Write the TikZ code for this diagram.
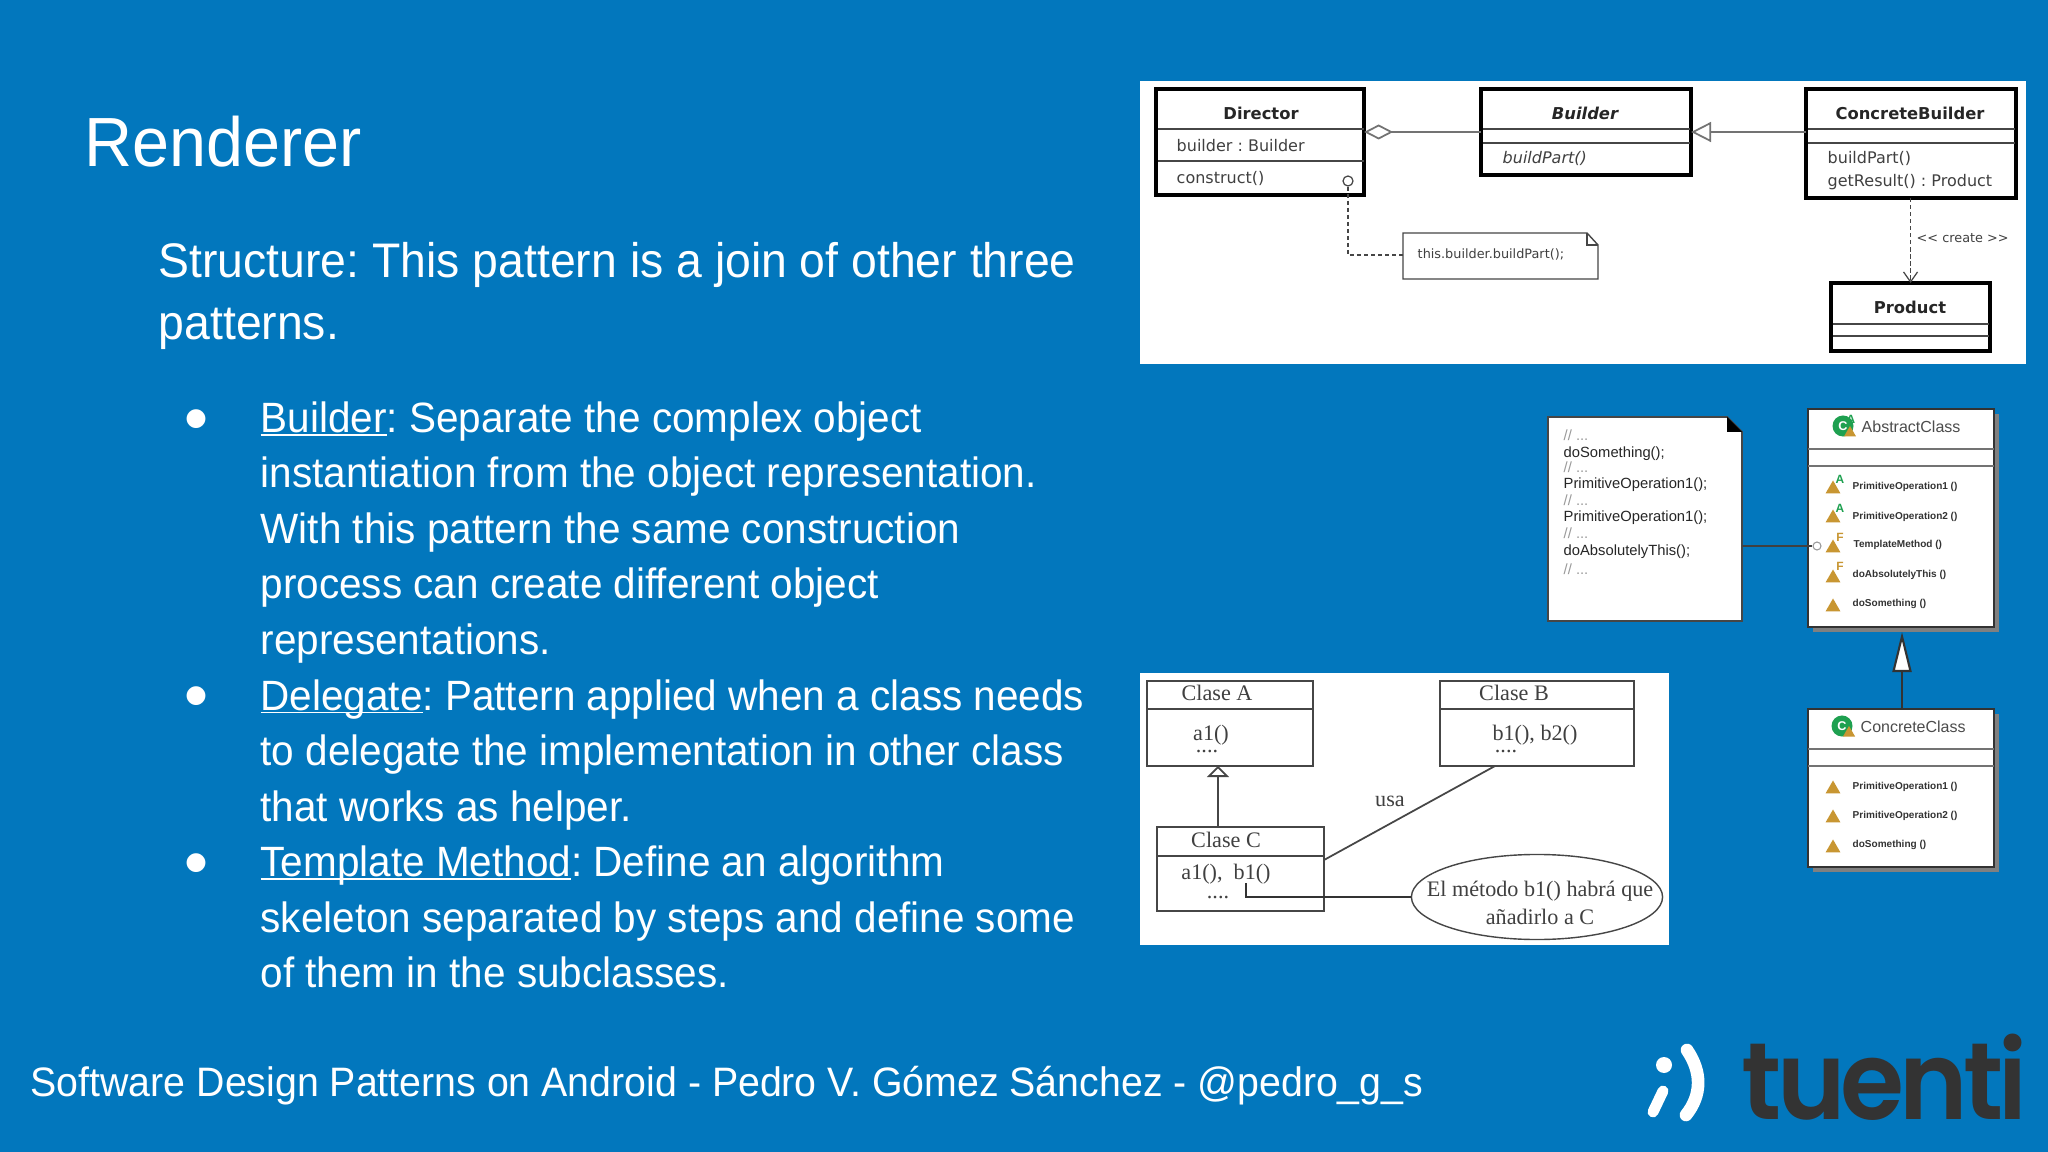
\documentclass[tikz,border=0pt]{standalone}
\usepackage{fontspec}
\usepackage{tikz}
\usetikzlibrary{arrows.meta,shapes.geometric}
\setmainfont{Liberation Sans}
\newfontfamily\slidefont[FakeStretch=0.955]{Liberation Sans}
\newfontfamily\umlfont{DejaVu Sans}
\newfontfamily\paperfont{Liberation Serif}
\newfontfamily\bulletfont{DejaVu Sans}
\newfontfamily\logofont[LetterSpace=-4.5,FakeStretch=0.95,BoldFont={* SemiBold}]{Poppins}
\definecolor{slideblue}{RGB}{2,119,189}
\definecolor{logodark}{RGB}{51,51,51}
\definecolor{methodgold}{RGB}{200,150,50}
\definecolor{iconfresh}{RGB}{30,160,80}
\definecolor{lineink}{RGB}{70,70,70}
\newcommand{\slideul}[1]{\setbox0\hbox{#1}\rlap{\rule[-.95pt]{\wd0}{.4pt}}\box0}
\tikzset{
  textline/.style={anchor=base west,inner sep=0,text=white},
  titleline/.style={textline,font=\slidefont\fontsize{19.8}{24}\selectfont},
  headline/.style={textline,font=\slidefont\fontsize{13.8}{16}\selectfont},
  bodyline/.style={textline,font=\slidefont\fontsize{12.05}{14}\selectfont},
  footline/.style={textline,font=\slidefont\fontsize{11.7}{14}\selectfont},
  dotmark/.style={inner sep=0,text=white,font=\bulletfont\fontsize{7}{8}\selectfont},
  umlbox/.style={draw=black,line width=1pt,anchor=north west,inner sep=0,outer sep=0,fill=white},
  umlname/.style={inner sep=0,font=\umlfont\bfseries\fontsize{4.65}{5}\selectfont,text=black!85},
  umltext/.style={anchor=west,inner sep=0,font=\umlfont\fontsize{4.55}{5}\selectfont,text=black!75},
  umlrule/.style={draw=lineink,line width=.45pt},
  umllink/.style={draw=black!55,line width=.8pt},
  fineline/.style={draw=lineink,line width=.35pt,dash pattern=on 1.2pt off .8pt},
  eclipsebox/.style={draw=black!80,line width=.5pt,anchor=north west,inner sep=0,outer sep=0,fill=white},
  eclipsetext/.style={anchor=west,inner sep=0,font=\fontsize{2.85}{4}\selectfont\bfseries,text=black!80},
  eclipsename/.style={anchor=west,inner sep=0,font=\fontsize{4.55}{5}\selectfont,text=black!70},
  codeline/.style={anchor=base west,inner sep=0,font=\fontsize{4.2}{5}\selectfont,text=black!85},
  commentline/.style={codeline,text=black!40},
  goldmark/.style={regular polygon,regular polygon sides=3,fill=methodgold,inner sep=0,minimum size=.17cm},
  freshicon/.style={circle,fill=iconfresh,inner sep=0,minimum size=.21cm,text=white,font=\bfseries\fontsize{3.6}{4}\selectfont},
  flagmark/.style={inner sep=0,font=\bfseries\fontsize{3.4}{4}\selectfont},
  paperbox/.style={draw=lineink,line width=.5pt,anchor=north west,inner sep=0,outer sep=0},
  papertext/.style={inner sep=0,font=\paperfont\fontsize{6.3}{7}\selectfont,text=black!75},
}
\begin{document}
\frenchspacing
\begin{tikzpicture}[x=.01cm,y=-.01cm]
\useasboundingbox (0,0) rectangle (2048,1152);
\fill[slideblue] (0,0) rectangle (2048,1152);
% slide text
\node[titleline] (title) at (84,167) {Renderer};
\node[headline] (head1) at (158,278) {Structure: This pattern is a join of other three};
\node[headline] (head2) at (158,340) {patterns.};
\node[dotmark] (dotA) at (196,419) {●};
\node[bodyline] (bodyA) at (260,432.5) {\slideul{Builder}: Separate the complex object};
\node[bodyline] (bodyB) at (260,488) {instantiation from the object representation.};
\node[bodyline] (bodyC) at (260,543.5) {With this pattern the same construction};
\node[bodyline] (bodyD) at (260,599) {process can create different object};
\node[bodyline] (bodyE) at (260,654.5) {representations.};
\node[dotmark] (dotB) at (196,696) {●};
\node[bodyline] (bodyF) at (260,710) {\slideul{Delegate}: Pattern applied when a class needs};
\node[bodyline] (bodyG) at (260,765.5) {to delegate the implementation in other class};
\node[bodyline] (bodyH) at (260,821) {that works as helper.};
\node[dotmark] (dotC) at (196,863) {●};
\node[bodyline] (bodyI) at (260,876.5) {\slideul{Template Method}: Define an algorithm};
\node[bodyline] (bodyJ) at (260,932) {skeleton separated by steps and define some};
\node[bodyline] (bodyK) at (260,987.5) {of them in the subclasses.};
\node[footline] (foot) at (30,1096) {Software Design Patterns on Android - Pedro V. Gómez Sánchez - @pedro\_g\_s};
% builder panel
\fill[white] (1140,81) rectangle (2026,364);
\node[umlbox,minimum width=2.08cm,minimum height=1.06cm] (director) at (1156,89) {};
\node[umlbox,minimum width=2.1cm,minimum height=.86cm] (builder) at (1481,89) {};
\node[umlbox,minimum width=2.1cm,minimum height=1.09cm] (concrete) at (1806,89) {};
\node[umlbox,minimum width=1.59cm,minimum height=.68cm] (product) at (1831,283) {};
\draw[umlrule] (1158,129)--(1364,129);
\draw[umlrule] (1158,161)--(1364,161);
\draw[umlrule] (1483,129)--(1690,129);
\draw[umlrule] (1483,143)--(1690,143);
\draw[umlrule] (1808,129)--(2015,129);
\draw[umlrule] (1808,143)--(2015,143);
\draw[umlrule] (1833,324)--(1989,324);
\draw[umlrule] (1833,336)--(1989,336);
\node[umlname] (directorname) at (1261,113) {Director};
\node[umlname] (buildername) at (1585,113) {\itshape Builder};
\node[umlname] (concretename) at (1910,113) {ConcreteBuilder};
\node[umlname] (productname) at (1910,307) {Product};
\node[umltext] (directorfield) at (1176,146) {builder : Builder};
\node[umltext] (directorop) at (1176,178) {construct()};
\node[umltext] (builderop) at (1502,158) {\itshape buildPart()};
\node[umltext] (concreteopA) at (1827,158) {buildPart()};
\node[umltext] (concreteopB) at (1827,182) {getResult() : Product};
\coordinate (linkrow) at (1500,132);
\draw[umllink,{Diamond[open,length=.29cm,width=.15cm,line width=.5pt]}-] (director.east |- linkrow)--(builder.west |- linkrow);
\draw[umllink,{Triangle[open,length=.2cm,width=.2cm,line width=.5pt]}-] (builder.east |- linkrow)--(concrete.west |- linkrow);
\draw[fineline,-{Straight Barb[length=.1cm,width=.14cm,line width=.35pt]}] (concrete.south -| product.north)--(product.north);
\node[umltext,font=\umlfont\fontsize{3.65}{4}\selectfont] (createlabel) at (1916,238) {{<}{<} create {>}{>}};
\draw[lineink,line width=.4pt,fill=white] (1403,233)--(1587,233)--(1598,245)--(1598,279)--(1403,279)--cycle;
\draw[lineink,line width=.4pt] (1587,233)--(1587,245)--(1598,245);
\coordinate (buildnote) at (1403,255);
\node[umltext,font=\umlfont\fontsize{3.65}{4}\selectfont] (buildnotetext) at (1417,254) {this.builder.buildPart();};
\node[circle,draw=lineink,line width=.35pt,fill=white,inner sep=0,minimum size=.1cm] (opdot) at (1348,181) {};
\draw[fineline] (opdot.south) |- (buildnote);
% template method panel
\draw[lineink,line width=.5pt,fill=white] (1548,417)--(1727,417)--(1742,432)--(1742,621)--(1548,621)--cycle;
\fill[black] (1727,417)--(1742,432)--(1727,432)--cycle;
\coordinate (tmplnote) at (1742,546);
\node[commentline] (codeA) at (1563,441) {// ...};
\node[codeline] (codeB) at (1563,458) {doSomething();};
\node[commentline] (codeC) at (1563,473) {// ...};
\node[codeline] (codeD) at (1563,489) {PrimitiveOperation1();};
\node[commentline] (codeE) at (1563,505) {// ...};
\node[codeline] (codeF) at (1563,522) {PrimitiveOperation1();};
\node[commentline] (codeG) at (1563,538) {// ...};
\node[codeline] (codeH) at (1563,556) {doAbsolutelyThis();};
\node[commentline] (codeI) at (1563,574) {// ...};
\fill[gray] (1813,414) rectangle (1999,632);
\fill[gray] (1813,714) rectangle (1999,872);
\node[eclipsebox,minimum width=1.86cm,minimum height=2.18cm] (abstractcls) at (1808,409) {};
\node[eclipsebox,minimum width=1.86cm,minimum height=1.58cm] (concretecls) at (1808,709) {};
\draw[draw=black!55,line width=.5pt] (1808,449)--(1994,449);
\draw[draw=black!55,line width=.5pt] (1808,466)--(1994,466);
\draw[draw=black!55,line width=.5pt] (1808,749)--(1994,749);
\draw[draw=black!55,line width=.5pt] (1808,766)--(1994,766);
\node[freshicon] (abstracticon) at (1843,426) {C};
\node[goldmark,minimum size=.14cm] (abstractgold) at (1850,433) {};
\node[flagmark,text=iconfresh] (abstractflag) at (1851,419) {A};
\node[eclipsename] (abstractname) at (1861,427) {AbstractClass};
\node[freshicon] (concreteicon) at (1842,726) {C};
\node[goldmark,minimum size=.14cm] (concretegold) at (1849,733) {};
\node[eclipsename] (concretename2) at (1860,727) {ConcreteClass};
\node[goldmark] (markA) at (1833,489) {};
\node[goldmark] (markB) at (1833,518) {};
\node[goldmark] (markC) at (1833,548) {};
\node[goldmark] (markD) at (1833,578) {};
\node[goldmark] (markE) at (1833,607) {};
\node[goldmark] (markF) at (1833,789) {};
\node[goldmark] (markG) at (1833,818) {};
\node[goldmark] (markH) at (1833,848) {};
\node[flagmark,text=iconfresh] (flagA) at (1840,479) {A};
\node[flagmark,text=iconfresh] (flagB) at (1840,508) {A};
\node[flagmark,text=methodgold] (flagC) at (1840,537) {F};
\node[flagmark,text=methodgold] (flagD) at (1840,566) {F};
\node[eclipsetext] (absopA) at (1852,487) {PrimitiveOperation1 ()};
\node[eclipsetext] (absopB) at (1852,517) {PrimitiveOperation2 ()};
\node[eclipsetext] (absopC) at (1853,545) {TemplateMethod ()};
\node[eclipsetext] (absopD) at (1852,575) {doAbsolutelyThis ()};
\node[eclipsetext] (absopE) at (1852,604) {doSomething ()};
\node[eclipsetext] (conopA) at (1852,787) {PrimitiveOperation1 ()};
\node[eclipsetext] (conopB) at (1852,816) {PrimitiveOperation2 ()};
\node[eclipsetext] (conopC) at (1852,845) {doSomething ()};
\node[circle,draw=black!40,line width=.3pt,fill=white,inner sep=0,minimum size=.08cm] (tmpldot) at (1817,546) {};
\draw[black!75,line width=.5pt] (tmplnote)--(tmpldot.west);
\coordinate (conctop) at (1902,709);
\coordinate (abstip) at (1902,632);
\draw[black!80,line width=.5pt,-{Triangle[open,fill=white,length=.4cm,width=.19cm,line width=.6pt]}] (conctop)--(abstip);
% delegate panel
\fill[white] (1140,673) rectangle (1669,945);
\node[paperbox,minimum width=1.66cm,minimum height=.85cm] (clasea) at (1147,681) {};
\node[paperbox,minimum width=1.94cm,minimum height=.85cm] (claseb) at (1440,681) {};
\node[paperbox,minimum width=1.67cm,minimum height=.84cm] (clasec) at (1157,827) {};
\draw[lineink,line width=.5pt] (1147,709)--(1313,709);
\draw[lineink,line width=.5pt] (1440,709)--(1634,709);
\draw[lineink,line width=.5pt] (1157,856)--(1324,856);
\node[papertext] (aname) at (1217,693) {Clase A};
\node[papertext] (bname) at (1514,693) {Clase B};
\node[papertext] (cname) at (1226,840) {Clase C};
\node[papertext] (aop) at (1211,735) {a1()};
\node[papertext] (bop) at (1535,735) {b1(), b2()};
\node[papertext] (cop) at (1226,874) {a1(),\ \ b1()};
\node[papertext] (adots) at (1207,752) {....};
\node[papertext] (bdots) at (1506,752) {....};
\node[papertext] (cdots) at (1218,898) {....};
\node[papertext] (usalabel) at (1390,801) {usa};
\node[ellipse,draw=lineink,line width=.4pt,inner sep=0,outer sep=0,minimum width=2.51cm,minimum height=.85cm] (cloud) at (1537,897) {};
\node[papertext] (cloudA) at (1540,891) {El método b1() habrá que};
\node[papertext] (cloudB) at (1540,917) {añadirlo a C};
\coordinate (cgoal) at (1218,827);
\coordinate (agoal) at (1218,766);
\coordinate (usaA) at (1324,860);
\coordinate (usaB) at (1495,766);
\coordinate (opmark) at (1246,883);
\draw[lineink,line width=.5pt,-{Triangle[open,length=.11cm,width=.22cm,line width=.5pt]}] (cgoal)--(agoal);
\draw[lineink,line width=.5pt] (usaA)--(usaB);
\draw[black!80,line width=.5pt] (opmark) |- (cloud.west);
% logo
\fill[white] (1664,1065) circle (8);
\draw[white,line width=3.1pt,line cap=round] (1663,1091)--(1653,1112);
\draw[white,line width=3.6pt,line cap=round] (1687,1050) .. controls (1702,1072) and (1702,1095) .. (1686,1115);
\node[anchor=base west,inner sep=0,text=logodark,font=\logofont\bfseries\fontsize{31}{33}\selectfont] (tuentilogo) at (1741,1119) {tuenti};
\end{tikzpicture}
\end{document}
